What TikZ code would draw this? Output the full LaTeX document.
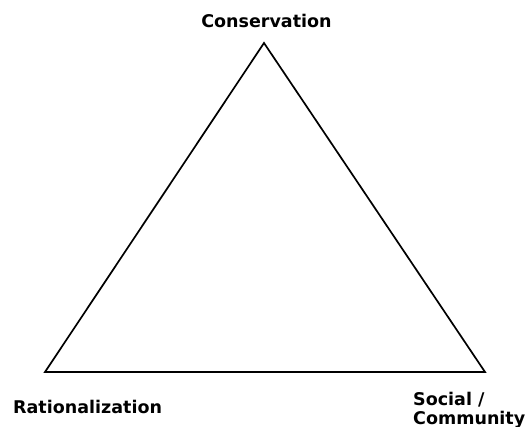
\documentclass[tikz,border=0pt]{standalone}
\usepackage{fontspec}
\setmainfont{DejaVu Sans}
\begin{document}
\begin{tikzpicture}[x=1pt,y=-1pt]
    \useasboundingbox (0,0) rectangle (529,427);
    \tikzset{lbl/.style={font=\bfseries\fontsize{17.5}{19}\selectfont, inner sep=0pt}}
    % Draw Triangle
    \coordinate (top) at (264,43);
    \coordinate (left) at (45,372);
    \coordinate (right) at (485,372);
    \draw[line width=1.7pt, line join=miter] (top) -- (right) -- (left) -- cycle;

    % Labels
    \node[lbl, anchor=base] (cons) at (266.5,28) {Conservation};
    \node[lbl, anchor=base west] (rat) at (13,413) {Rationalization};
    \node[lbl, anchor=base west, align=left] (soc) at (413,424) {Social /\\Community};
\end{tikzpicture}
\end{document}
